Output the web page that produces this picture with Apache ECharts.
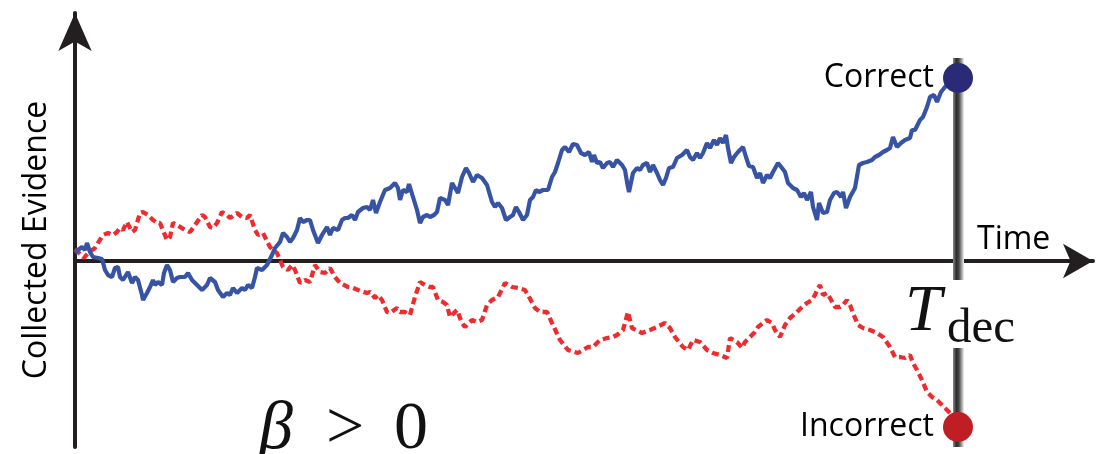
<!DOCTYPE html>
<html>
<head>
<meta charset="utf-8">
<script src="https://cdn.jsdelivr.net/npm/echarts@6/dist/echarts.min.js"></script>
<style>html,body{margin:0;padding:0;background:#fff}#c{width:1107px;height:454px}</style>
</head>
<body>
<div id="c"></div>
<script>
// Time (arbitrary units) and collected evidence (arbitrary units)
const correctPath = [[0,8],[3,11],[7,14],[10,11],[12,18],[15,9],[18,4],[23,3],[27,2],[30,-9],[33,-14],[37,-16],[40,-7],[43,-6],[45,-16],[48,-19],[53,-11],[57,-22],[60,-16],[63,-19],[67,-34],[68,-39],[72,-32],[75,-26],[78,-19],[80,-24],[83,-21],[87,-24],[89,-12],[92,-4],[95,-9],[98,-21],[102,-17],[105,-16],[110,-16],[113,-12],[117,-19],[122,-24],[127,-29],[132,-24],[135,-17],[140,-21],[143,-29],[148,-36],[152,-32],[155,-34],[158,-27],[162,-32],[167,-27],[170,-29],[173,-24],[177,-27],[180,-16],[182,-7],[187,-9],[192,-4],[197,6],[200,13],[205,19],[208,28],[212,24],[215,19],[218,23],[222,31],[225,43],[228,39],[232,41],[235,41],[238,31],[243,18],[247,26],[252,34],[255,26],[258,33],[263,31],[267,41],[270,43],[273,43],[277,46],[280,41],[283,49],[288,53],[292,54],[295,51],[298,61],[301,48],[305,59],[310,71],[315,73],[320,78],[323,73],[325,61],[328,71],[332,69],[334,77],[338,64],[342,51],[345,38],[348,44],[352,46],[355,44],[359,46],[362,49],[365,63],[370,61],[373,56],[377,78],[380,73],[383,68],[387,84],[391,93],[394,88],[398,79],[402,86],[407,83],[412,76],[417,59],[420,54],[423,58],[427,53],[431,41],[435,44],[438,46],[441,54],[444,49],[448,41],[452,46],[455,61],[458,64],[461,71],[464,69],[468,71],[473,71],[477,84],[480,89],[483,98],[487,111],[490,114],[494,109],[498,117],[502,116],[506,108],[510,106],[514,109],[517,99],[519,106],[522,98],[525,99],[528,93],[532,98],[535,99],[538,94],[542,101],[547,96],[550,91],[552,79],[554,69],[558,88],[562,93],[565,91],[568,96],[572,98],[575,89],[578,96],[582,88],[585,81],[588,76],[591,83],[594,93],[598,94],[602,103],[607,106],[612,111],[615,104],[618,101],[622,108],[625,103],[628,108],[632,118],[635,113],[639,121],[642,116],[645,123],[648,118],[651,126],[653,113],[656,98],[659,104],[663,109],[668,114],[671,104],[674,95],[678,94],[682,83],[685,88],[688,78],[692,86],[695,83],[698,89],[703,98],[707,93],[710,89],[713,78],[718,73],[722,71],[726,64],[729,68],[732,61],[736,69],[738,54],[742,41],[744,58],[748,48],[752,49],[755,61],[759,68],[762,69],[766,64],[768,69],[771,53],[775,64],[780,73],[784,96],[788,98],[792,99],[797,101],[800,104],[804,106],[808,109],[812,111],[815,113],[818,124],[822,114],[826,118],[830,121],[835,123],[837,131],[840,131],[845,141],[848,144],[852,154],[855,164],[859,166],[862,159],[866,169],[870,174],[875,179],[883,183]];

const incorrectPath = [[0,12],[2,14],[9,3],[13,8],[20,13],[23,18],[28,26],[33,28],[38,26],[42,29],[45,33],[48,31],[52,39],[57,29],[60,31],[65,48],[68,49],[73,46],[78,41],[82,38],[85,38],[92,21],[95,24],[98,38],[102,36],[110,31],[115,29],[118,33],[127,46],[130,44],[135,34],[138,33],[142,38],[147,49],[152,46],[155,43],[162,48],[167,44],[172,43],[175,46],[180,31],[183,26],[188,28],[195,14],[198,11],[202,8],[208,-6],[213,-9],[217,-4],[220,-9],[225,-22],[230,-19],[235,-21],[240,-4],[245,-11],[250,-12],[255,-7],[260,-16],[265,-22],[273,-26],[278,-27],[283,-29],[292,-32],[295,-31],[300,-37],[303,-34],[307,-39],[312,-51],[315,-52],[322,-47],[325,-51],[330,-51],[335,-54],[340,-36],[345,-21],[350,-24],[355,-26],[358,-26],[363,-39],[368,-41],[372,-44],[375,-56],[382,-49],[387,-62],[390,-66],[397,-59],[402,-61],[407,-59],[412,-44],[417,-39],[423,-36],[430,-22],[437,-26],[443,-27],[450,-29],[453,-34],[460,-47],[465,-51],[472,-51],[477,-62],[485,-79],[493,-89],[503,-92],[513,-86],[518,-86],[525,-79],[532,-77],[538,-76],[542,-74],[548,-69],[553,-51],[557,-67],[567,-72],[575,-69],[582,-66],[590,-62],[595,-67],[600,-76],[608,-86],[613,-89],[618,-79],[625,-81],[632,-89],[638,-92],[645,-94],[652,-97],[655,-77],[662,-81],[667,-87],[670,-81],[675,-76],[680,-71],[683,-66],[688,-62],[692,-59],[697,-62],[700,-69],[705,-76],[710,-64],[715,-57],[722,-51],[727,-46],[732,-42],[737,-39],[740,-34],[742,-29],[745,-24],[748,-34],[752,-32],[755,-37],[760,-46],[765,-46],[768,-44],[772,-39],[775,-44],[778,-52],[783,-64],[788,-67],[795,-69],[802,-72],[808,-76],[815,-86],[820,-96],[825,-96],[830,-97],[835,-94],[838,-102],[842,-109],[847,-119],[852,-131],[857,-136],[862,-139],[867,-144],[872,-149],[875,-152],[883,-164]];

const decisionTime = 883;
const outcomes = [[883, 183], [883, -166]];
const outcomeLabels = ['Correct', 'Incorrect'];
const axisNames = { y: 'Collected Evidence', x: 'Time' };

const chart = echarts.init(document.getElementById('c'), null, { renderer: 'canvas' });
const TXT = '#000';
chart.setOption({
  backgroundColor: '#fff',
  animation: false,
  grid: { left: 75, right: 14, top: 13, bottom: 7 },
  xAxis: {
    type: 'value', min: 0, max: 1018,
    axisLine: { show: true, onZero: true, symbol: ['none', 'arrow'], symbolSize: [26, 30],
      lineStyle: { color: '#231f20', width: 4 } },
    axisTick: { show: false }, axisLabel: { show: false }, splitLine: { show: false }
  },
  yAxis: {
    type: 'value', min: -186, max: 248,
    name: axisNames.y, nameLocation: 'middle', nameRotate: 90, nameGap: 22,
    nameTextStyle: { fontFamily: 'Open Sans', fontSize: 32, color: TXT, padding: [0, 20, 0, 0] },
    axisLine: { show: true, onZero: true, symbol: ['none', 'arrow'], symbolSize: [25, 38],
      lineStyle: { color: '#231f20', width: 4 } },
    axisTick: { show: false }, axisLabel: { show: false }, splitLine: { show: false }
  },
  series: [
    {
      type: 'line', data: incorrectPath, showSymbol: false, z: 3,
      lineStyle: { color: '#ee2b2e', width: 4.3, type: [7, 4] },
      markArea: {
        silent: true,
        itemStyle: {
          color: new echarts.graphic.LinearGradient(0, 0, 1, 0, [
            { offset: 0, color: '#8c8c8c' }, { offset: 0.3, color: '#2b2b2b' },
            { offset: 0.55, color: '#4a4a4a' }, { offset: 1, color: '#f2f2f2' }])
        },
        data: [[{ coord: [decisionTime - 5, 203] }, { coord: [decisionTime + 6, -186] }]]
      }
    },
    {
      type: 'line', data: correctPath, showSymbol: false, z: 4,
      lineStyle: { color: '#3653a4', width: 4.2 }
    },
    {
      type: 'scatter', z: 6, symbolSize: 30,
      itemStyle: { opacity: 1 },
      data: outcomes.map((p, i) => ({
        value: p, name: outcomeLabels[i],
        itemStyle: { color: i === 0 ? '#2b2a78' : '#bf1e24', opacity: 1 }
      })),
      label: { show: true, position: 'left', distance: 9, formatter: '{b}', opacity: 1,
        fontFamily: 'Open Sans', fontSize: 32, color: TXT }
    }
  ],
  graphic: [
    { type: 'rect', z: 100, shape: { x: 900, y: 280, width: 125, height: 68 }, style: { fill: '#fff' } },
    { type: 'text', z: 101, left: 905, top: 280,
      style: { text: 'T', fontFamily: 'Liberation Serif', fontStyle: 'italic', fontSize: 66, fill: '#111' } },
    { type: 'text', z: 101, left: 947, top: 305,
      style: { text: 'dec', fontFamily: 'Liberation Serif', fontSize: 49, fill: '#111' } },
    { type: 'text', z: 101, left: 977, top: 224,
      style: { text: axisNames.x, fontFamily: 'Open Sans', fontSize: 32, fill: TXT } },
    { type: 'text', z: 101, left: 259, top: 396,
      style: { text: 'β', fontFamily: 'Liberation Serif', fontStyle: 'italic', fontSize: 68, fill: '#111' } },
    { type: 'text', z: 101, left: 326, top: 396,
      style: { text: '>', fontFamily: 'Liberation Serif', fontSize: 68, fill: '#111' } },
    { type: 'text', z: 101, left: 394, top: 396,
      style: { text: '0', fontFamily: 'Liberation Serif', fontSize: 68, fill: '#111' } }
  ]
});
</script>
</body>
</html>
